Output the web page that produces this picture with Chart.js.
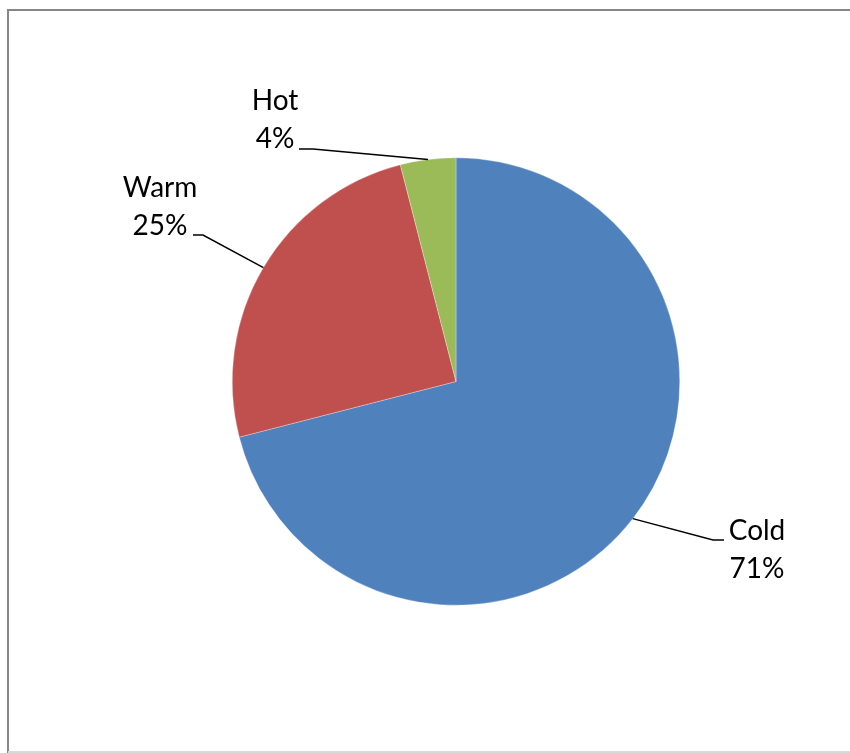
<!DOCTYPE html>
<html>
<head>
<meta charset="utf-8">
<script src="https://cdn.jsdelivr.net/npm/chart.js@4/dist/chart.umd.min.js"></script>
<style>
  html, body { margin: 0; padding: 0; background: #fff; }
  canvas { display: block; }
</style>
</head>
<body>
<canvas id="c" width="850" height="753"></canvas>
<script>
// ---- data ----
const categories = ['Cold', 'Warm', 'Hot'];
const values = [71, 25, 4];
const percentLabels = ['71%', '25%', '4%'];

// ---- styles / layout ----
const colors = ['#4F81BD', '#C0504D', '#9BBB59'];
const FONT = '28px Lato, "Open Sans", sans-serif';
const LINE_H = 38;
// per-label layout: text center x, first baseline y, elbow point, end of horizontal segment
const labelLayout = [
  { tx: 757, ty: 540, elbow: [713, 540], end: [724, 540] },
  { tx: 160, ty: 197, elbow: [203, 235], end: [193, 235] },
  { tx: 275, ty: 110, elbow: [313, 149], end: [299, 149] }
];

const framePlugin = {
  id: 'frame',
  beforeDraw(chart) {
    const ctx = chart.ctx;
    ctx.save();
    ctx.fillStyle = '#fff';
    ctx.fillRect(0, 0, chart.width, chart.height);
    ctx.strokeStyle = '#868686';
    ctx.lineWidth = 2;
    ctx.beginPath();
    ctx.moveTo(8, 753);
    ctx.lineTo(8, 10);
    ctx.lineTo(850, 10);
    ctx.stroke();
    ctx.strokeStyle = '#d9d9d9';
    ctx.lineWidth = 2;
    ctx.beginPath();
    ctx.moveTo(8, 752);
    ctx.lineTo(850, 752);
    ctx.stroke();
    ctx.restore();
  }
};

const labelPlugin = {
  id: 'pieLabels',
  afterDatasetsDraw(chart) {
    const ctx = chart.ctx;
    const meta = chart.getDatasetMeta(0);
    ctx.save();
    meta.data.forEach((arc, i) => {
      const p = arc.getProps(['x', 'y', 'startAngle', 'endAngle', 'outerRadius'], true);
      const mid = (p.startAngle + p.endAngle) / 2;
      const ex = p.x + Math.cos(mid) * p.outerRadius;
      const ey = p.y + Math.sin(mid) * p.outerRadius;
      const L = labelLayout[i];
      ctx.strokeStyle = '#000';
      ctx.lineWidth = 1.5;
      ctx.beginPath();
      ctx.moveTo(ex, ey);
      ctx.lineTo(L.elbow[0], L.elbow[1]);
      ctx.lineTo(L.end[0], L.end[1]);
      ctx.stroke();
      ctx.fillStyle = '#000';
      ctx.font = FONT;
      ctx.textAlign = 'center';
      ctx.textBaseline = 'alphabetic';
      ctx.fillText(categories[i], L.tx, L.ty);
      ctx.fillText(percentLabels[i], L.tx, L.ty + LINE_H);
    });
    ctx.restore();
  }
};

new Chart(document.getElementById('c'), {
  type: 'pie',
  data: {
    labels: categories,
    datasets: [{
      data: values,
      backgroundColor: colors,
      borderColor: 'rgba(255,255,255,0.6)',
      borderWidth: 0.5,
      hoverOffset: 0
    }]
  },
  options: {
    responsive: false,
    animation: false,
    events: [],
    layout: { padding: { left: 232, right: 170, top: 157, bottom: 147 } },
    plugins: {
      legend: { display: false },
      tooltip: { enabled: false }
    }
  },
  plugins: [framePlugin, labelPlugin]
});
</script>
</body>
</html>
